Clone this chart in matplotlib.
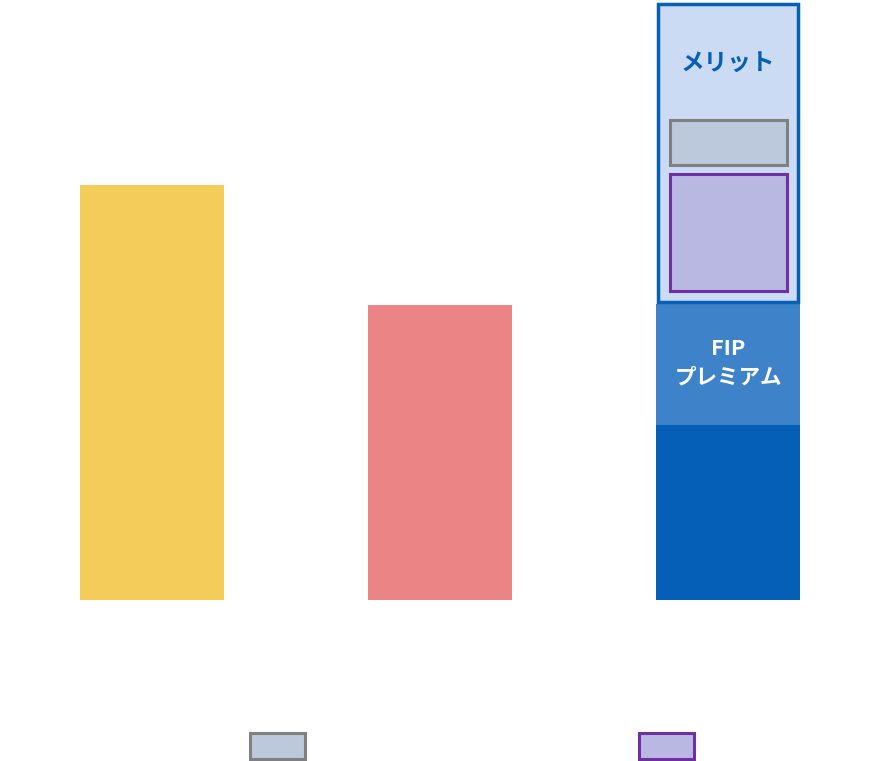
import matplotlib.pyplot as plt
from matplotlib.patches import Rectangle

plt.rcParams['font.family'] = ['Noto Sans CJK JP', 'DejaVu Sans']

# bar data (pixel-ish units, baseline at 0)
positions = [0, 1, 2]
single_values = [415, 295]
single_colors = ['#F3CC5A', '#EB8585']
base_value = 175      # blue bottom segment
fip_value = 121       # FIP premium
merit_value = 302     # merit box
merit_label = 'メリット'
fip_label = 'FIP\nプレミアム'

W = 0.5
PX = 288.0  # pixels per x unit

fig = plt.figure(figsize=(8.8, 7.61), dpi=100)
ax = fig.add_axes([0, 0, 1, 1])
ax.set_xlim(-152 / PX, (880 - 152) / PX)
ax.set_ylim(-161, 600)
ax.axis('off')

ax.bar(positions[:2], single_values, width=W, color=single_colors, linewidth=0)
ax.bar(positions[2], base_value, width=W, color='#055FB6', linewidth=0)
ax.bar(positions[2], fip_value, bottom=base_value, width=W, color='#3E83C9', linewidth=0)

mb = base_value + fip_value
ax.bar(positions[2], merit_value - 3.4, bottom=mb + 1.7, width=W - 3.4 / PX,
       color='#CADBF3', edgecolor='#055FB6', linewidth=2.5)

# inner boxes of merit
cx = positions[2]
ax.add_patch(Rectangle((cx - 58 / PX, 600 - 165), 117 / PX, 45,
                       facecolor='#BCC8DC', edgecolor='#808080', linewidth=2.2))
ax.add_patch(Rectangle((cx - 58 / PX, 600 - 291), 117 / PX, 117,
                       facecolor='#B9B8E2', edgecolor='#7030A0', linewidth=2.2))

ax.text(cx, 600 - 63, merit_label, ha='center', va='center', fontsize=17,
        fontweight='bold', color='#055FB6')
ax.text(cx, base_value + fip_value / 2 + 2, fip_label, ha='center', va='center',
        fontsize=15.5, fontweight='bold', color='white', linespacing=1.45)

# legend boxes
ax.add_patch(Rectangle((276.5 / PX - 152 / PX - 27 / PX, 600 - 759), 55 / PX, 26,
                       facecolor='#BCC8DC', edgecolor='#808080', linewidth=2.2))
ax.add_patch(Rectangle((665.5 / PX - 152 / PX - 27 / PX, 600 - 759), 55 / PX, 26,
                       facecolor='#B9B8E2', edgecolor='#7030A0', linewidth=2.2))

fig.savefig('out.png', dpi=100)
